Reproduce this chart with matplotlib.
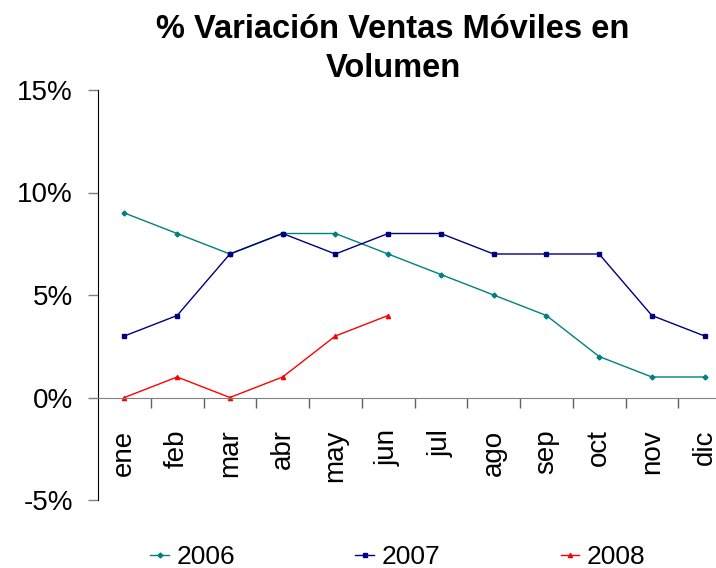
import numpy as np
import matplotlib.pyplot as plt

plt.rcParams["font.family"] = ["Liberation Sans", "DejaVu Sans"]

meses = ["ene", "feb", "mar", "abr", "may", "jun",
         "jul", "ago", "sep", "oct", "nov", "dic"]
v2006 = [9, 8, 7, 8, 8, 7, 6, 5, 4, 2, 1, 1]
v2007 = [3, 4, 7, 8, 7, 8, 8, 7, 7, 7, 4, 3]
v2008 = [0, 1, 0, 1, 3, 4]
y_ticks = [-5, 0, 5, 10, 15]

fig = plt.figure(figsize=(7.16, 5.68), dpi=100)
ax = fig.add_axes([98 / 716, 68 / 568, 633 / 716, 410 / 568])

x = np.arange(len(meses))
ax.plot(x, v2006, color="#008080", marker="D", ms=2.5, lw=1, label="2006")
ax.plot(x, v2007, color="#000080", marker="s", ms=2.5, lw=1, label="2007")
ax.plot(x[:len(v2008)], v2008, color="#FF0000", marker="^", ms=3, lw=1, label="2008")

ax.set_xlim(-0.5, len(meses) - 0.5)
ax.set_ylim(-5, 15)
ax.set_yticks(y_ticks)
ax.set_yticklabels([f"{t}%" for t in y_ticks])
ax.tick_params(axis="y", length=7, width=1, color="#808080", pad=11, labelsize=20)

ax.set_xticks(x)
ax.set_xticklabels(meses)
ax.set_xticks(np.arange(0.5, len(meses) - 0.5), minor=True)
ax.tick_params(axis="x", which="major", length=0, pad=23, labelsize=20,
               labelrotation=90)
ax.tick_params(axis="x", which="minor", length=7, width=1, color="#606060")

for s in ["top", "right"]:
    ax.spines[s].set_visible(False)
ax.spines["bottom"].set_position(("data", 0))
ax.spines["bottom"].set_color("#808080")
ax.spines["left"].set_color("black")

fig.text(393 / 716, 1 - 14 / 568, "% Variación Ventas Móviles en\nVolumen",
         ha="center", va="top", fontsize=23.5, fontweight="bold", linespacing=1.35)

fig.legend(loc="center", bbox_to_anchor=(398 / 716, 1 - 557 / 568), ncol=3,
           frameon=False, fontsize=19, handlelength=0.7, handletextpad=0.3,
           columnspacing=4.55, borderaxespad=0)

fig.savefig("out.png", dpi=100)
